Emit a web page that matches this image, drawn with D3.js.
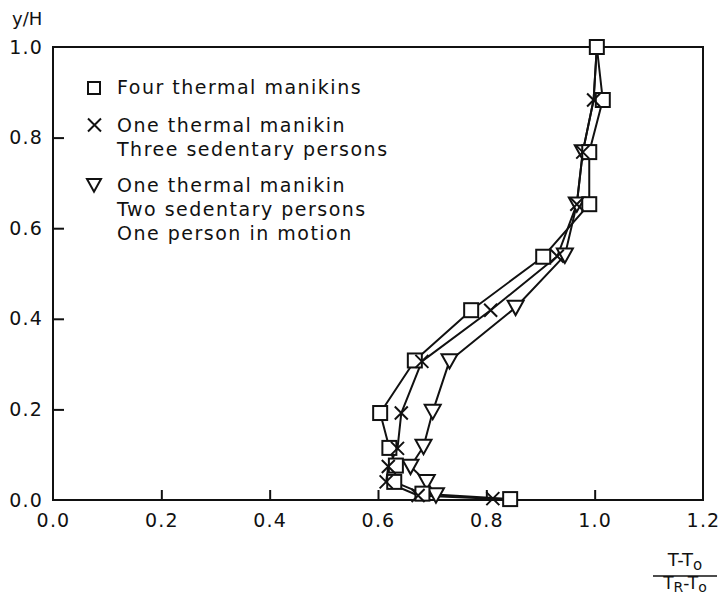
<!DOCTYPE html>
<html>
<head>
<meta charset="utf-8">
<script src="https://cdn.jsdelivr.net/npm/d3@7"></script>
<style>
  html, body { margin: 0; padding: 0; background: #fff; }
  svg { display: block; }
  text { font-family: "DejaVu Sans", sans-serif; fill: #111; }
</style>
</head>
<body>
<script>
// ---- data ----
const xTicks = [0.0, 0.2, 0.4, 0.6, 0.8, 1.0, 1.2];
const yTicks = [0.0, 0.2, 0.4, 0.6, 0.8, 1.0];

// Four thermal manikins  [T-To/TR-To, y/H]
const squares = [
  [1.004, 1.000], [1.015, 0.883], [0.990, 0.768], [0.990, 0.653],
  [0.905, 0.537], [0.772, 0.419], [0.668, 0.308], [0.604, 0.192],
  [0.621, 0.115], [0.633, 0.076], [0.630, 0.040], [0.682, 0.014],
  [0.844, 0.002]
];
// One thermal manikin, three sedentary persons
const crosses = [
  [1.004, 1.000], [0.998, 0.883], [0.978, 0.768], [0.967, 0.653],
  [0.931, 0.538], [0.808, 0.419], [0.681, 0.306], [0.643, 0.192],
  [0.636, 0.114], [0.619, 0.074], [0.615, 0.040], [0.674, 0.010],
  [0.812, 0.003]
];
// One thermal manikin, two sedentary persons, one person in motion
const triangles = [
  [1.004, 1.000], [0.998, 0.883], [0.978, 0.768], [0.967, 0.653],
  [0.945, 0.540], [0.854, 0.425], [0.732, 0.307], [0.701, 0.195],
  [0.684, 0.118], [0.660, 0.074], [0.690, 0.040], [0.707, 0.011]
];
const legendLines = [
  ["Four thermal manikins"],
  ["One thermal manikin", "Three sedentary persons"],
  ["One thermal manikin", "Two sedentary persons", "One person in motion"]
];

// ---- layout ----
const W = 719, H = 598;
const svg = d3.select("body").append("svg").attr("width", W).attr("height", H);
const x = d3.scaleLinear().domain([0, 1.2]).range([53, 703]);
const y = d3.scaleLinear().domain([0, 1]).range([500, 47]);
const ink = "#111";

// frame
svg.append("rect")
  .attr("x", x(0)).attr("y", y(1))
  .attr("width", x(1.2) - x(0)).attr("height", y(0) - y(1))
  .attr("fill", "none").attr("stroke", ink).attr("stroke-width", 2);

const fmt = d3.format(".1f");
const gx = svg.append("g").attr("transform", `translate(0,${y(0)})`)
  .call(d3.axisBottom(x).tickValues(xTicks).tickSize(-10).tickPadding(14).tickFormat(fmt));
const gy = svg.append("g").attr("transform", `translate(${x(0)},0)`)
  .call(d3.axisLeft(y).tickValues(yTicks).tickSize(-11).tickPadding(10).tickFormat(fmt));
[gx, gy].forEach(g => {
  g.select(".domain").remove();
  g.selectAll(".tick line").attr("stroke", ink).attr("stroke-width", 2);
  g.selectAll(".tick text").attr("font-size", 19).attr("letter-spacing", 1.2)
    .attr("font-family", "DejaVu Sans").attr("fill", ink);
});
// no tick marks at frame corners
gx.selectAll(".tick").filter(d => d === 0 || d === 1.2).select("line").remove();
gy.selectAll(".tick").filter(d => d === 0 || d === 1).select("line").remove();

// series lines
const line = d3.line().x(d => x(d[0])).y(d => y(d[1]));
[squares, crosses, triangles].forEach(s => {
  svg.append("path").datum(s).attr("d", line)
    .attr("fill", "none").attr("stroke", ink).attr("stroke-width", 2)
    .attr("stroke-linejoin", "round");
});

// marker drawing helpers
function drawSquare(g, cx, cy, s) {
  g.append("rect").attr("x", cx - s / 2).attr("y", cy - s / 2)
    .attr("width", s).attr("height", s)
    .attr("fill", "#fff").attr("stroke", ink).attr("stroke-width", 2);
}
function drawCross(g, cx, cy, s) {
  const h = s / 2;
  g.append("path").attr("d", `M${cx - h},${cy - h}L${cx + h},${cy + h}M${cx - h},${cy + h}L${cx + h},${cy - h}`)
    .attr("stroke", ink).attr("stroke-width", 2).attr("fill", "none");
}
function drawTri(g, cx, cy, s) {
  const h = s / 2;
  g.append("path").attr("d", `M${cx - h},${cy - h * 0.85}L${cx + h},${cy - h * 0.85}L${cx},${cy + h * 0.95}Z`)
    .attr("fill", "#fff").attr("stroke", ink).attr("stroke-width", 2).attr("stroke-linejoin", "miter");
}

const mk = svg.append("g");
triangles.slice(2).forEach(d => drawTri(mk, x(d[0]), y(d[1]), 16));
squares.forEach(d => drawSquare(mk, x(d[0]), y(d[1]), 14));
crosses.slice(1).forEach(d => drawCross(mk, x(d[0]), y(d[1]), 13));

// legend
const lg = svg.append("g");
drawSquare(lg, 94, 88, 12);
drawCross(lg, 94.5, 125, 13);
drawTri(lg, 94, 185, 14);
const baselines = [[94], [131.7, 155.5], [191.7, 215.7, 240]];
legendLines.forEach((grp, i) => {
  grp.forEach((t, j) => {
    lg.append("text").attr("x", 117).attr("y", baselines[i][j])
      .attr("font-size", 19).attr("letter-spacing", 1.5).text(t);
  });
});

// axis titles
svg.append("text").attr("x", 12).attr("y", 25).attr("font-size", 18).text("y/H");

const fr = svg.append("g");
const num = fr.append("text").attr("x", 685).attr("y", 566).attr("font-size", 18).attr("text-anchor", "middle");
num.append("tspan").text("T-T");
num.append("tspan").attr("dy", 4).attr("font-size", 15).text("o");
fr.append("line").attr("x1", 653).attr("x2", 717).attr("y1", 576).attr("y2", 576)
  .attr("stroke", ink).attr("stroke-width", 1.5);
const den = fr.append("text").attr("x", 685).attr("y", 589).attr("font-size", 17).attr("text-anchor", "middle");
den.append("tspan").text("T");
den.append("tspan").attr("dy", 3).attr("font-size", 14).text("R");
den.append("tspan").attr("dy", -3).text("-T");
den.append("tspan").attr("dy", 3).attr("font-size", 14).text("o");
</script>
</body>
</html>
